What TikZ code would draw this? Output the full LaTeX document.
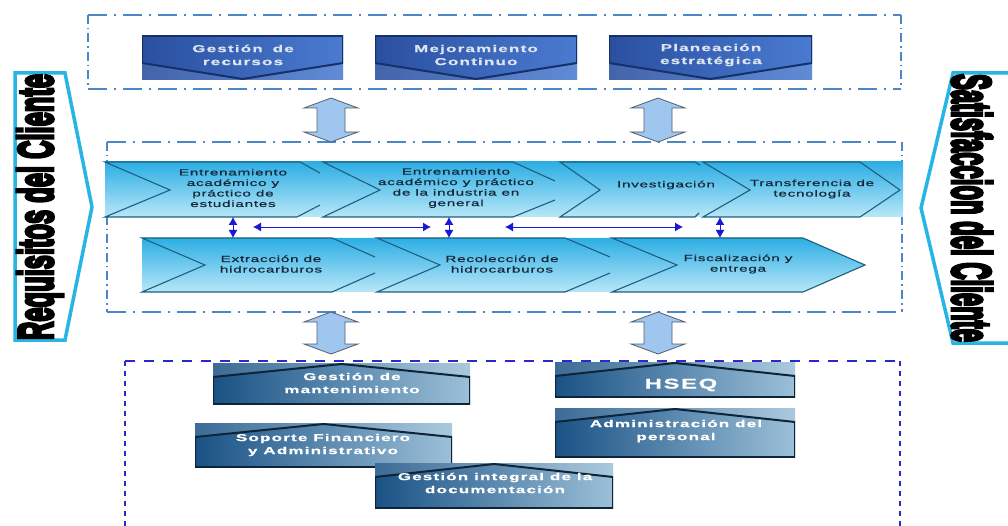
\documentclass[tikz,border=0pt]{standalone}
\usepackage{fontspec}
\setmainfont{Liberation Sans}
\newfontfamily\chevfont[FakeStretch=1.7,LetterSpace=8,FakeBold=0.6]{Liberation Sans}
\newfontfamily\boxfont[FakeStretch=1.7,LetterSpace=12,FakeBold=0.8]{Liberation Sans}
\newfontfamily\sidefont[FakeBold=7]{Liberation Sans}
\usetikzlibrary{arrows.meta,calc}

\definecolor{frameblue}{HTML}{4A86C8}
\definecolor{dashviolet}{HTML}{2A2AC8}
\definecolor{sidecyan}{HTML}{27B5E6}
\definecolor{topL}{HTML}{2A4FA0}
\definecolor{topR}{HTML}{4A7BD0}
\definecolor{topedge}{HTML}{16306A}
\definecolor{toptext}{HTML}{DCE4F0}
\definecolor{bandT}{HTML}{2CAEE4}
\definecolor{bandB}{HTML}{B8E7F8}
\definecolor{chevedge}{HTML}{1E5E7E}
\definecolor{chevtext}{HTML}{15283A}
\definecolor{botL}{HTML}{1A5285}
\definecolor{botR}{HTML}{9CC0D8}
\definecolor{botedge}{HTML}{0E2438}
\definecolor{arrowfill}{HTML}{9EC6EE}
\definecolor{arrowedge}{HTML}{55606E}
\definecolor{linkblue}{HTML}{1818D8}

% vertical double block arrow: centre x, top y, bottom y
\newcommand{\dblarrow}[3]{%
  \filldraw[bigarrow] (#1,#2) -- (#1+27,#2+10) -- (#1+14,#2+10) -- (#1+14,#3-10)
    -- (#1+27,#3-10) -- (#1,#3) -- (#1-27,#3-10) -- (#1-14,#3-10)
    -- (#1-14,#2+10) -- (#1-27,#2+10) -- cycle;}

\tikzset{
  framehoriz/.style={draw=frameblue, line width=1.5pt, dash pattern=on 19pt off 7pt on 2pt off 7pt},
  framevert/.style={draw=frameblue, line width=1.5pt, dash pattern=on 9pt off 4pt on 1.5pt off 4pt},
  lowhoriz/.style={draw=dashviolet, line width=1.6pt, dash pattern=on 10pt off 9pt},
  lowvert/.style={draw=dashviolet, line width=1.8pt, dash pattern=on 5pt off 5pt},
  sideshape/.style={draw=sidecyan, line width=3.5pt, fill=white, line join=miter},
  bigarrow/.style={fill=arrowfill, draw=arrowedge, line width=0.8pt, line join=miter},
  band/.style={top color=bandT, bottom color=bandB},
  chevline/.style={draw=chevedge, line width=1.1pt},
  link/.style={draw=linkblue, line width=0.9pt, {Latex[length=8pt,width=9pt]}-{Latex[length=8pt,width=9pt]}},
  topbox/.style={rectangle, inner sep=0pt, left color=topL, right color=topR,
    path picture={
      \fill[white, opacity=0.12] ([yshift=17pt]path picture bounding box.south west)
        -- ([yshift=1pt]path picture bounding box.south) -- ([yshift=17pt]path picture bounding box.south east)
        -- (path picture bounding box.south east) -- (path picture bounding box.south west) -- cycle;
      \draw[topedge, line width=2pt] (path picture bounding box.north west)
        -- ([yshift=17pt]path picture bounding box.south west) -- ([yshift=1pt]path picture bounding box.south)
        -- ([yshift=17pt]path picture bounding box.south east) -- (path picture bounding box.north east) -- cycle;
    }},
  botbox/.style={rectangle, inner sep=0pt, left color=botL, right color=botR,
    path picture={
      \fill[white, opacity=0.15] (path picture bounding box.north west)
        -- ([yshift=-14pt]path picture bounding box.north west) -- ([yshift=-1pt]path picture bounding box.north)
        -- ([yshift=-14pt]path picture bounding box.north east) -- (path picture bounding box.north east) -- cycle;
      \draw[botedge, line width=2pt] ([yshift=-14pt]path picture bounding box.north west)
        -- ([yshift=-1pt]path picture bounding box.north) -- ([yshift=-14pt]path picture bounding box.north east)
        -- (path picture bounding box.south east) -- (path picture bounding box.south west) -- cycle;
    }},
  toplabel/.style={text=toptext, align=center, inner sep=0pt, font=\boxfont\bfseries\fontsize{10pt}{13pt}\selectfont},
  chevlabel/.style={text=chevtext, align=center, inner sep=0pt, font=\chevfont\fontsize{9pt}{10.5pt}\selectfont},
  botlabel/.style={text=white, align=center, inner sep=0pt, font=\boxfont\bfseries\fontsize{10pt}{13pt}\selectfont},
}

\begin{document}
\begin{tikzpicture}[x=1pt, y=-1pt]
\useasboundingbox (0,0) rectangle (1008,526);
\fill[white] (0,0) rectangle (1008,526);

% side arrows
\filldraw[sideshape] (15,73) -- (65,73) -- (92,207) -- (65,340) -- (15,340) -- cycle;
\node[rotate=90, inner sep=0pt] (req) at (40,207)
  {\resizebox*{266pt}{46pt}{\sidefont\bfseries Requisitos del Cliente}};
\filldraw[sideshape] (1014,73) -- (953,73) -- (921,208) -- (953,343) -- (1014,343) -- cycle;
\node[rotate=-90, inner sep=0pt] (sat) at (972,208)
  {\resizebox*{268pt}{40pt}{\sidefont\bfseries Satisfaccion del Cliente}};

% strategic frame
\draw[framehoriz] (88,15) -- (901,15);
\draw[framehoriz] (88,89) -- (901,89);
\draw[framevert] (88,15) -- (88,89);
\draw[framevert] (901,15) -- (901,89);

% process frame
\draw[framehoriz] (107,142) -- (902,142);
\draw[framehoriz] (107,312) -- (902,312);
\draw[framevert] (107,142) -- (107,312);
\draw[framevert] (902,142) -- (902,312);

% support frame
\draw[lowhoriz] (125,361) -- (900,361);
\draw[lowvert] (125,361) -- (125,528);
\draw[lowvert] (900,361) -- (900,528);

% strategic processes
\node[topbox, minimum width=201pt, minimum height=44pt] (t1) at (242.5,58) {};
\node[topbox, minimum width=202pt, minimum height=44pt] (t2) at (476,58) {};
\node[topbox, minimum width=203pt, minimum height=44pt] (t3) at (710.5,58) {};
\node[toplabel] (t1l) at (243,55) {Gestión\hspace{4pt} de\\recursos};
\node[toplabel] (t2l) at (476,55) {Mejoramiento\\Continuo};
\node[toplabel] (t3l) at (711,55) {Planeación\\estratégica};

% block arrows between the levels
\dblarrow{331}{98}{142}
\dblarrow{658}{98}{142}
\dblarrow{331}{312}{354}
\dblarrow{658}{312}{354}

% upper chain of chevrons
\node[band, minimum width=798pt, minimum height=55pt, inner sep=0pt] (toprow) at (504,189.5) {};
\draw[chevline] (300,162) -- (105,162) -- (170,190) -- (105,217) -- (297,217);
\draw[chevline] (300,162) -- (320,173) (297,217) -- (320,205);
\draw[chevline] (513,162) -- (323,162) -- (380,190) -- (323,217) -- (513,217);
\draw[chevline] (513,162) -- (555,181) (513,217) -- (555,200);
\draw[chevline] (695,162) -- (560,162) -- (600,190) -- (560,217) -- (695,217);
\draw[chevline] (695,162) -- (700,165) (695,217) -- (699,213);
\draw[chevline] (703,162) -- (750,190) -- (703,217) -- (860,217) -- (900,190) -- (860,162) -- cycle;

\node[chevlabel] (c1) at (233,188) {Entrenamiento\\académico y\\práctico de\\estudiantes};
\node[chevlabel] (c2) at (456,188) {Entrenamiento\\académico y práctico\\de la industria en\\general};
\node[chevlabel] (c3) at (666,185) {Investigación};
\node[chevlabel] (c4) at (812,189) {Transferencia de\\tecnología};

% lower chain of chevrons
\shade[band] (142,238) -- (803,238) -- (865,265) -- (803,292) -- (142,292) -- cycle;
\coordinate (lowrow) at (503,265);
\draw[chevline] (332,238) -- (142,238) -- (205,265) -- (142,292) -- (332,292);
\draw[chevline] (332,238) -- (375,257) (332,292) -- (375,273);
\draw[chevline] (565,238) -- (377,238) -- (440,265) -- (377,292) -- (565,292);
\draw[chevline] (565,238) -- (610,257) (565,292) -- (610,273);
\draw[chevline] (612,238) -- (677,265) -- (612,292) -- (803,292) -- (865,265) -- (803,238) -- cycle;

\node[chevlabel] (c5) at (271,264) {Extracción de\\hidrocarburos};
\node[chevlabel] (c6) at (502,264) {Recolección de\\hidrocarburos};
\node[chevlabel] (c7) at (738,264) {Fiscalización y\\entrega};

% links between the chains
\coordinate (a1t) at (233,217); \coordinate (a1b) at (233,238);
\coordinate (a2t) at (449,217); \coordinate (a2b) at (449,238);
\coordinate (a3t) at (720,217); \coordinate (a3b) at (720,238);
\coordinate (h1l) at (253,227); \coordinate (h1r) at (431,227);
\coordinate (h2l) at (505,227); \coordinate (h2r) at (683,227);
\draw[link] (a1t) -- (a1b);
\draw[link] (a2t) -- (a2b);
\draw[link] (a3t) -- (a3b);
\draw[link] (h1l) -- (h1r);
\draw[link] (h2l) -- (h2r);

% support processes
\node[botbox, minimum width=257pt, minimum height=41pt] (bm) at (341.5,383.5) {};
\node[botbox, minimum width=240pt, minimum height=35pt] (bh) at (675,379.5) {};
\node[botbox, minimum width=240pt, minimum height=49pt] (ba) at (675,432.5) {};
\node[botbox, minimum width=257pt, minimum height=44pt] (bs) at (323.5,445) {};
\node[botbox, minimum width=238pt, minimum height=45pt] (bi) at (494,485.5) {};
\node[botlabel] (bml) at (352,383) {Gestión de\\mantenimiento};
\node[botlabel, font=\boxfont\bfseries\fontsize{14pt}{16pt}\selectfont] (bhl) at (681,385) {HSEQ};
\node[botlabel] (bal) at (676,431) {Administración del\\personal};
\node[botlabel] (bsl) at (323,445) {Soporte Financiero\\y Administrativo};
\node[botlabel] (bil) at (495,483) {Gestión integral de la\\documentación};
\end{tikzpicture}
\end{document}
